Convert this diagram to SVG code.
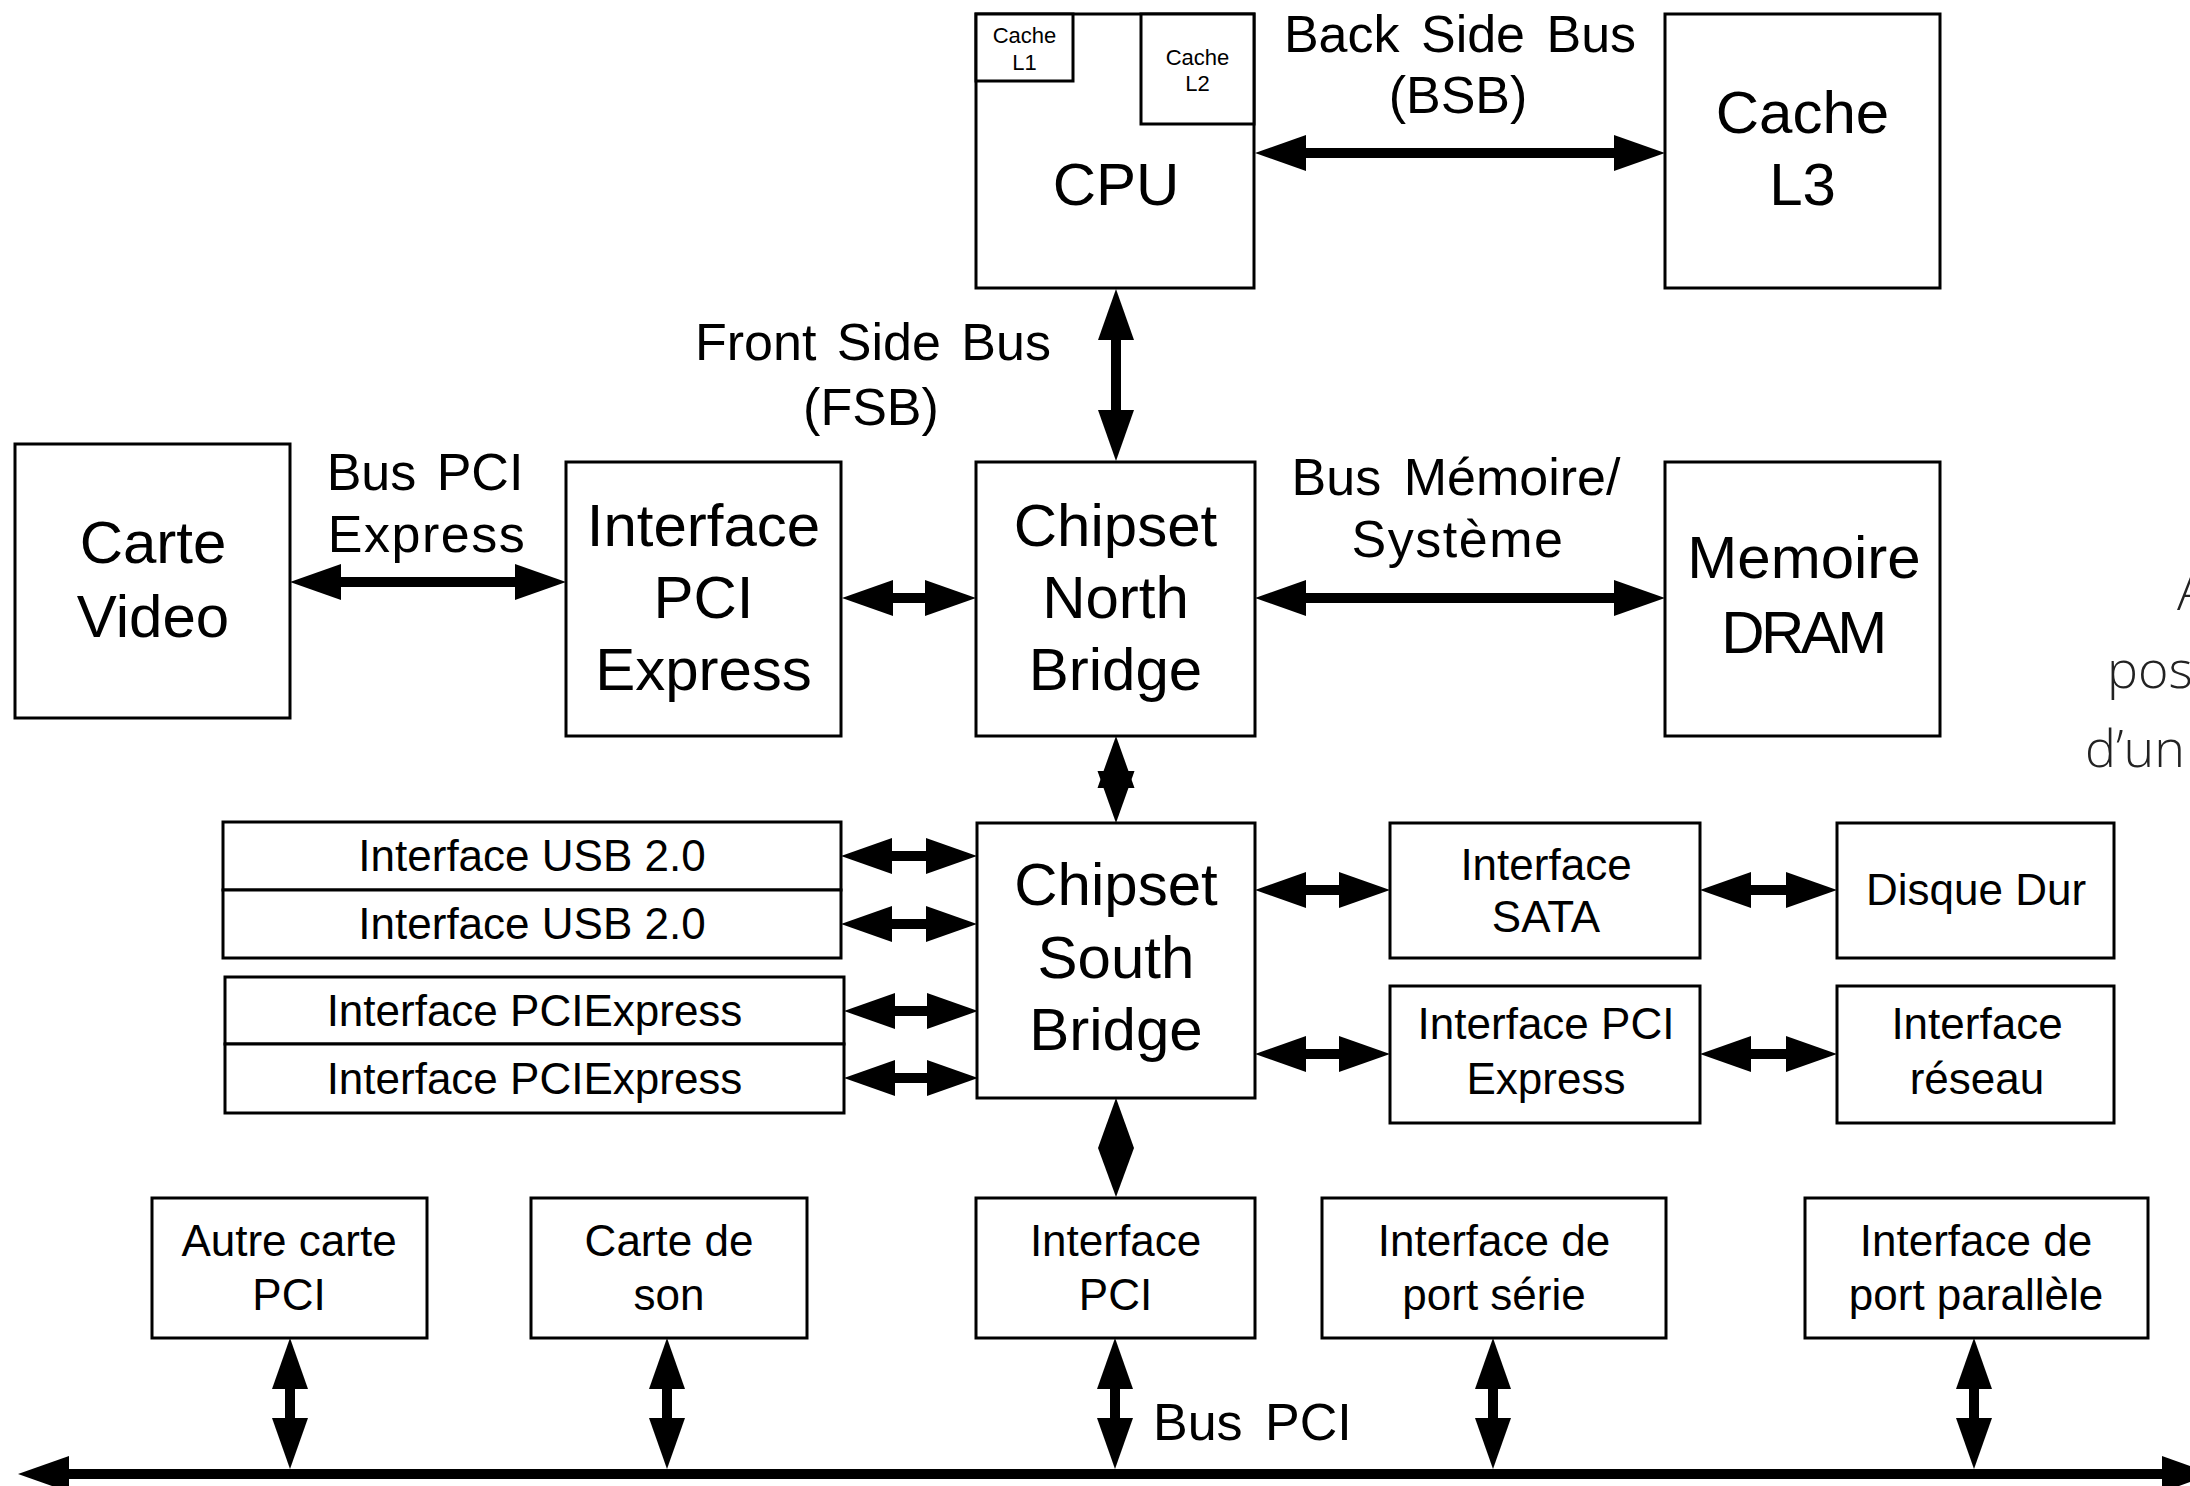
<svg xmlns="http://www.w3.org/2000/svg" width="2190" height="1486" viewBox="0 0 2190 1486">
<style>
.box{fill:#fff;stroke:#000;stroke-width:3}
.t{font-family:"Liberation Sans",Arial,sans-serif;fill:#000;text-anchor:middle}
.big{font-size:60px}
.sm{font-size:44px}
.xs{font-size:22px}
.lbl{font-size:52px}
.ar{stroke:#000;stroke-width:10;fill:none;marker-start:url(#ah);marker-end:url(#ah)}
.hd{fill:#000}
.thin{font-family:"Open Sans","Lato",sans-serif;font-weight:300;font-size:52px;fill:#222}
</style>
<defs>
<marker id="ah" markerUnits="userSpaceOnUse" viewBox="0 0 51 36" markerWidth="51" markerHeight="36" refX="1" refY="18" orient="auto-start-reverse">
<path d="M0,0 L51,18 L0,36 z" fill="#000"/>
</marker>
</defs>
<rect width="2190" height="1486" fill="#fff"/>

<g id="connectors">
<line class="ar" x1="1305" y1="153" x2="1615" y2="153"/>
<line class="ar" x1="1116" y1="339" x2="1116" y2="411"/>
<line class="ar" x1="340" y1="582" x2="516" y2="582"/>
<line class="ar" x1="892" y1="598" x2="926" y2="598"/>
<line class="ar" x1="1305" y1="598" x2="1615" y2="598"/>
<path class="hd" d="M1116,736 L1134.5,788 L1097.5,788 Z"/>
<path class="hd" d="M1116,823 L1134.5,771 L1097.5,771 Z"/>
<line class="ar" x1="891" y1="856" x2="927" y2="856"/>
<line class="ar" x1="891" y1="924" x2="927" y2="924"/>
<line class="ar" x1="894" y1="1011" x2="928" y2="1011"/>
<line class="ar" x1="894" y1="1078" x2="928" y2="1078"/>
<line class="ar" x1="1305" y1="890" x2="1340" y2="890"/>
<line class="ar" x1="1305" y1="1054" x2="1340" y2="1054"/>
<line class="ar" x1="1750" y1="890" x2="1787" y2="890"/>
<line class="ar" x1="1750" y1="1054" x2="1787" y2="1054"/>
<path class="hd" d="M1116,1098 L1134,1148 L1116,1197 L1098,1148 Z"/>
<line class="ar" x1="290" y1="1388" x2="290" y2="1419"/>
<line class="ar" x1="667" y1="1388" x2="667" y2="1419"/>
<line class="ar" x1="1115" y1="1388" x2="1115" y2="1419"/>
<line class="ar" x1="1493" y1="1388" x2="1493" y2="1419"/>
<line class="ar" x1="1974" y1="1388" x2="1974" y2="1419"/>
<line class="ar" x1="68" y1="1474" x2="2163" y2="1474"/>
</g>

<g id="lbl-bsb">
<text class="t lbl" x="1460" y="52" word-spacing="7">Back Side Bus</text>
<text class="t lbl" x="1458" y="113">(BSB)</text>
</g>
<g id="lbl-fsb">
<text class="t lbl" x="873" y="360" word-spacing="6">Front Side Bus</text>
<text class="t lbl" x="871" y="425">(FSB)</text>
</g>
<g id="lbl-mem">
<text class="t lbl" x="1456" y="495" word-spacing="8">Bus Mémoire/</text>
<text class="t lbl" x="1458" y="557" letter-spacing="1.5">Système</text>
</g>
<g id="lbl-pcie">
<text class="t lbl" x="425" y="490" word-spacing="6">Bus PCI</text>
<text class="t lbl" x="427" y="552" letter-spacing="1.5">Express</text>
</g>
<g id="lbl-pci">
<text class="t lbl" x="1153" y="1440" word-spacing="8" style="text-anchor:start">Bus PCI</text>
</g>

<g id="cpu">
<rect class="box" x="976" y="14" width="278" height="274"/>
<rect class="box" x="976" y="14" width="97" height="67"/>
<rect class="box" x="1141" y="14" width="113" height="110"/>
<text class="t xs" x="1024.5" y="43">Cache</text>
<text class="t xs" x="1024.5" y="70">L1</text>
<text class="t xs" x="1197.5" y="65">Cache</text>
<text class="t xs" x="1197.5" y="91">L2</text>
<text class="t big" x="1116" y="205">CPU</text>
</g>
<g id="cache-l3">
<rect class="box" x="1665" y="14" width="275" height="274"/>
<text class="t big" x="1802.5" y="133">Cache</text>
<text class="t big" x="1802.5" y="205">L3</text>
</g>
<g id="carte-video">
<rect class="box" x="15" y="444" width="275" height="274"/>
<text class="t big" x="153" y="563">Carte</text>
<text class="t big" x="153" y="637">Video</text>
</g>
<g id="interface-pcie">
<rect class="box" x="566" y="462" width="275" height="274"/>
<text class="t big" x="703.5" y="546">Interface</text>
<text class="t big" x="703.5" y="618">PCI</text>
<text class="t big" x="703.5" y="690">Express</text>
</g>
<g id="north-bridge">
<rect class="box" x="976" y="462" width="279" height="274"/>
<text class="t big" x="1115.5" y="546">Chipset</text>
<text class="t big" x="1115.5" y="618">North</text>
<text class="t big" x="1115.5" y="690">Bridge</text>
</g>
<g id="dram">
<rect class="box" x="1665" y="462" width="275" height="274"/>
<text class="t big" x="1804" y="578">Memoire</text>
<text class="t big" x="1802.5" y="653" letter-spacing="-3.5">DRAM</text>
</g>
<g id="usb1">
<rect class="box" x="223" y="822" width="618" height="68"/>
<text class="t sm" x="532" y="871">Interface USB 2.0</text>
</g>
<g id="usb2">
<rect class="box" x="223" y="890" width="618" height="68"/>
<text class="t sm" x="532" y="939">Interface USB 2.0</text>
</g>
<g id="pcie1">
<rect class="box" x="225" y="977" width="619" height="67"/>
<text class="t sm" x="534.5" y="1026">Interface PCIExpress</text>
</g>
<g id="pcie2">
<rect class="box" x="225" y="1044" width="619" height="69"/>
<text class="t sm" x="534.5" y="1094">Interface PCIExpress</text>
</g>
<g id="south-bridge">
<rect class="box" x="977" y="823" width="278" height="275"/>
<text class="t big" x="1116" y="905">Chipset</text>
<text class="t big" x="1116" y="978">South</text>
<text class="t big" x="1116" y="1050">Bridge</text>
</g>
<g id="sata">
<rect class="box" x="1390" y="823" width="310" height="135"/>
<text class="t sm" x="1546" y="880">Interface</text>
<text class="t sm" x="1546" y="932">SATA</text>
</g>
<g id="disque">
<rect class="box" x="1837" y="823" width="277" height="135"/>
<text class="t sm" x="1976" y="905">Disque Dur</text>
</g>
<g id="pcie-right">
<rect class="box" x="1390" y="986" width="310" height="137"/>
<text class="t sm" x="1546" y="1039">Interface PCI</text>
<text class="t sm" x="1546" y="1094">Express</text>
</g>
<g id="reseau">
<rect class="box" x="1837" y="986" width="277" height="137"/>
<text class="t sm" x="1977" y="1039">Interface</text>
<text class="t sm" x="1977" y="1094">réseau</text>
</g>
<g id="autre-carte">
<rect class="box" x="152" y="1198" width="275" height="140"/>
<text class="t sm" x="289" y="1256">Autre carte</text>
<text class="t sm" x="289" y="1310">PCI</text>
</g>
<g id="carte-son">
<rect class="box" x="531" y="1198" width="276" height="140"/>
<text class="t sm" x="669" y="1256">Carte de</text>
<text class="t sm" x="669" y="1310">son</text>
</g>
<g id="interface-pci">
<rect class="box" x="976" y="1198" width="279" height="140"/>
<text class="t sm" x="1115.5" y="1256">Interface</text>
<text class="t sm" x="1115.5" y="1310">PCI</text>
</g>
<g id="port-serie">
<rect class="box" x="1322" y="1198" width="344" height="140"/>
<text class="t sm" x="1494" y="1256">Interface de</text>
<text class="t sm" x="1494" y="1310">port série</text>
</g>
<g id="port-parallele">
<rect class="box" x="1805" y="1198" width="343" height="140"/>
<text class="t sm" x="1976" y="1256">Interface de</text>
<text class="t sm" x="1976" y="1310">port parallèle</text>
</g>
<g id="side-text">
<text class="thin" x="2177" y="610">A</text>
<text class="thin" x="2107" y="688">pos</text>
<text class="thin" x="2085" y="767">d’un</text>
</g>
</svg>
